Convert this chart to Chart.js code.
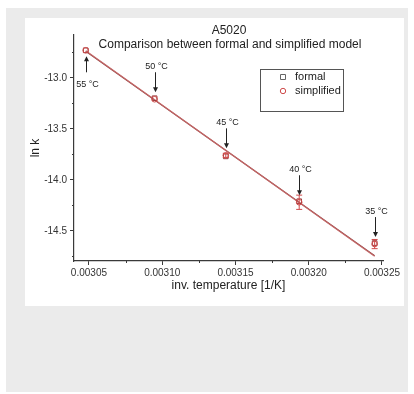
<!DOCTYPE html>
<html>
<head>
<meta charset="utf-8">
<script src="https://cdn.jsdelivr.net/npm/chart.js@4/dist/chart.umd.min.js"></script>
<style>
  html, body { margin: 0; padding: 0; background: #fff; }
  #wrap { width: 414px; height: 394px; }
  canvas { display: block; }
</style>
</head>
<body>
<div id="wrap"><canvas id="chart"></canvas></div>
<script>
// ---- data ----
const titleMain = 'A5020';
const titleSub = 'Comparison between formal and simplified model';
const tempLabels = ['55 °C', '50 °C', '45 °C', '40 °C', '35 °C'];
const invTemp = [0.0030478, 0.0030948, 0.0031434, 0.0031935, 0.0032450];
const lnkFormal = [-12.73, -13.20, -13.77, -14.21, -14.62];
const lnkSimplified = [-12.73, -13.21, -13.76, -14.22, -14.63];
const lnkErr = [0.01, 0.015, 0.02, 0.07, 0.045];
const fitX = [0.0030478, 0.0032450];
const fitFormal = [-12.74, -14.745];
const fitSimplified = [-12.735, -14.75];
const xTicks = [0.00305, 0.00310, 0.00315, 0.00320, 0.00325];
const xMinor = [0.003075, 0.003125, 0.003175, 0.003225];
const yTicks = [-14.5, -14.0, -13.5, -13.0];
const yMinor = [-14.75, -14.25, -13.75, -13.25, -12.75];
const labelBelow = [true, false, false, false, false];

const FONT = '"Liberation Sans", Arial, sans-serif';
Chart.defaults.font.family = FONT;
Chart.defaults.color = '#333';

const AXIS = '#3a3a3a';
const RED = '#cf4b4b';

const pts = (xs, ys) => xs.map((x, i) => ({ x, y: ys[i] }));

/* page background: grey panel with white picture */
const backdrop = {
  id: 'backdrop',
  beforeDraw(chart) {
    const c = chart.ctx;
    c.save();
    c.fillStyle = '#fff';
    c.fillRect(0, 0, chart.width, chart.height);
    c.fillStyle = '#ebebeb';
    c.fillRect(6, 8, 402, 384);
    c.fillStyle = '#fff';
    c.fillRect(25, 18, 379, 288);
    c.restore();
  }
};

/* minor ticks, error bars, temperature arrows, titles, legend box */
const extras = {
  id: 'extras',
  beforeDatasetsDraw(chart) {
    const c = chart.ctx, xs = chart.scales.x, ys = chart.scales.y;
    c.save();
    c.strokeStyle = AXIS;
    c.lineWidth = 1;
    c.beginPath();
    xMinor.forEach(v => {
      const px = Math.round(xs.getPixelForValue(v)) + 0.5;
      c.moveTo(px, chart.chartArea.bottom);
      c.lineTo(px, chart.chartArea.bottom + 2);
    });
    yMinor.forEach(v => {
      if (v > ys.max || v < ys.min) return;
      const py = Math.round(ys.getPixelForValue(v)) + 0.5;
      c.moveTo(chart.chartArea.left, py);
      c.lineTo(chart.chartArea.left - 2, py);
    });
    c.stroke();
    c.restore();
  },
  afterDatasetsDraw(chart) {
    const c = chart.ctx, xs = chart.scales.x, ys = chart.scales.y;
    c.save();
    // error bars
    c.strokeStyle = RED;
    c.lineWidth = 1;
    invTemp.forEach((t, i) => {
      const px = xs.getPixelForValue(t);
      const top = ys.getPixelForValue(lnkSimplified[i] + lnkErr[i]);
      const bot = ys.getPixelForValue(lnkSimplified[i] - lnkErr[i]);
      if (bot - top < 4) return;
      c.beginPath();
      c.moveTo(px, top); c.lineTo(px, bot);
      c.moveTo(px - 3, top); c.lineTo(px + 3, top);
      c.moveTo(px - 3, bot); c.lineTo(px + 3, bot);
      c.stroke();
    });
    // arrows + labels
    c.fillStyle = '#222';
    c.strokeStyle = '#222';
    c.font = '9px ' + FONT;
    c.textAlign = 'center';
    c.textBaseline = 'middle';
    tempLabels.forEach((lbl, i) => {
      const px = Math.round(xs.getPixelForValue(invTemp[i])) + 0.5;
      const py = ys.getPixelForValue(lnkSimplified[i]);
      let from, to, ty;
      if (labelBelow[i]) { from = py + 22; to = py + 6; ty = py + 34; }
      else { from = py - 27; to = py - 7; ty = py - 33; }
      const dir = to > from ? 1 : -1;
      c.beginPath();
      c.moveTo(px, from); c.lineTo(px, to - dir * 4);
      c.stroke();
      c.beginPath();
      c.moveTo(px, to);
      c.lineTo(px - 2.5, to - dir * 5);
      c.lineTo(px + 2.5, to - dir * 5);
      c.closePath();
      c.fill();
      c.fillText(lbl, px + 1, ty);
    });
    c.restore();
  },
  afterDraw(chart) {
    const c = chart.ctx;
    c.save();
    c.fillStyle = '#222';
    c.textAlign = 'center';
    c.textBaseline = 'middle';
    c.font = '12px ' + FONT;
    c.fillText(titleMain, 229, 31);
    c.fillText(titleSub, 230, 45);
    // legend box
    c.strokeStyle = '#555';
    c.lineWidth = 1;
    c.strokeRect(260.5, 69.5, 83, 42);
    const items = chart.data.datasets
      .filter(d => d.legendRank)
      .sort((a, b) => a.legendRank - b.legendRank);
    items.forEach((d, i) => {
      const ly = 77 + i * 14;
      c.strokeStyle = d.legendColor;
      c.lineWidth = 1;
      c.beginPath();
      if (d.pointStyle === 'rect') c.rect(280.5, ly - 2.5, 5, 5);
      else c.arc(283, ly, 2.7, 0, Math.PI * 2);
      c.stroke();
      c.fillStyle = '#222';
      c.textAlign = 'left';
      c.font = '11px ' + FONT;
      c.fillText(d.label, 295, ly);
    });
    c.restore();
  }
};

new Chart(document.getElementById('chart'), {
  type: 'scatter',
  data: {
    datasets: [
      {
        label: 'simplified', legendRank: 2, legendColor: RED,
        data: pts(invTemp, lnkSimplified),
        pointStyle: 'circle', pointRadius: 2.8, borderWidth: 1,
        borderColor: RED, backgroundColor: 'transparent'
      },
      {
        label: 'formal', legendRank: 1, legendColor: '#666',
        data: pts(invTemp, lnkFormal),
        pointStyle: 'rect', pointRadius: 3.3, borderWidth: 1,
        borderColor: '#9a3a3a', backgroundColor: 'transparent'
      },
      {
        label: 'simplified fit',
        data: pts(fitX, fitSimplified),
        showLine: true, pointRadius: 0, borderWidth: 1.2,
        borderColor: 'rgba(200,105,105,0.9)'
      },
      {
        label: 'formal fit',
        data: pts(fitX, fitFormal),
        showLine: true, pointRadius: 0, borderWidth: 1.2,
        borderColor: '#8a3c3c'
      }
    ]
  },
  options: {
    responsive: true, maintainAspectRatio: false, animation: false,
    layout: { padding: { left: 25, top: 35, right: 31, bottom: 100 } },
    plugins: { legend: { display: false }, tooltip: { enabled: false } },
    scales: {
      x: {
        type: 'linear', position: 'bottom',
        min: 0.0030398, max: 0.0032507,
        afterBuildTicks: s => { s.ticks = xTicks.map(v => ({ value: v })); },
        afterFit: s => { s.height = 33; },
        border: { color: AXIS, width: 1.2 },
        grid: { drawOnChartArea: false, drawTicks: true, tickLength: 4, color: AXIS },
        ticks: { font: { size: 10 }, color: '#333', padding: 2, maxRotation: 0,
                 callback: v => v.toFixed(5) },
        title: { display: true, text: 'inv. temperature [1/K]', color: '#222',
                 font: { size: 12 }, padding: { top: 0, bottom: 1 } }
      },
      y: {
        type: 'linear', position: 'left',
        min: -14.796, max: -12.58,
        afterBuildTicks: s => { s.ticks = yTicks.map(v => ({ value: v })); },
        afterFit: s => { s.width = 49; },
        border: { color: AXIS, width: 1.2 },
        grid: { drawOnChartArea: false, drawTicks: true, tickLength: 4, color: AXIS },
        ticks: { font: { size: 10 }, color: '#333', padding: 3,
                 callback: v => v.toFixed(1) },
        title: { display: true, text: 'ln k', color: '#222',
                 font: { size: 12 }, padding: { top: 3, bottom: 0 } }
      }
    }
  },
  plugins: [backdrop, extras]
});
</script>
</body>
</html>
